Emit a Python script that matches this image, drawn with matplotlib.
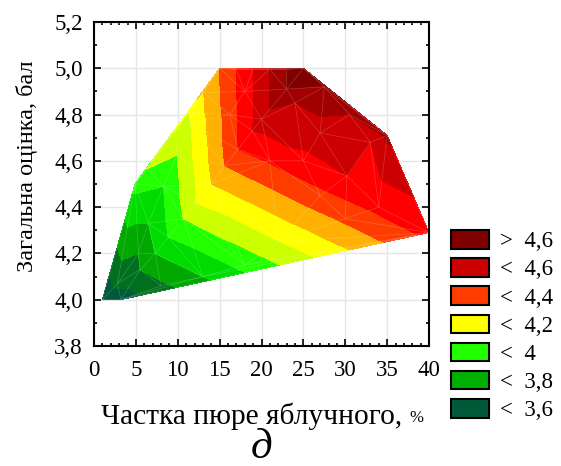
import numpy as np
import matplotlib
matplotlib.use("Agg")
import matplotlib.pyplot as plt
import matplotlib.tri as tri
from matplotlib.patches import Patch
from matplotlib.ticker import MultipleLocator, FixedLocator, FixedFormatter

plt.rcParams["font.family"] = ["Liberation Serif", "DejaVu Serif"]

# частка пюре яблучного, %
share = [1.0, 3.2, 40.0, 35.0, 25.0, 15.0, 4.9,
         6.3, 9.7, 11.3, 13.1,
         17.0, 19.0, 21.0, 23.0,
         5.3, 6.5, 8.3, 9.9, 11.6,
         2.8, 5.5, 7.3, 8.87, 10.67, 12.06, 14.05, 15.6, 17.2, 18.9,
         16.2, 18.0,
         20.0, 23.0, 27.5, 24.0, 30.5, 27.0, 30.2, 33.0,
         8.0, 13.0, 18.0, 22.0, 27.0, 30.0, 34.0, 21.0, 25.0]
# загальна оцінка, бал
score = [4.00, 4.00, 4.29, 4.71, 5.00, 5.00, 4.50,
         4.565, 4.73, 4.81, 4.895,
         4.995, 4.995, 4.995, 4.995,
         4.20, 4.33, 4.49, 4.625, 4.76,
         4.07, 4.13, 4.20, 4.27, 4.35, 4.42, 4.50, 4.58, 4.65, 4.73,
         4.80, 4.90,
         4.78, 4.91, 4.92, 4.85, 4.80, 4.72, 4.535, 4.68,
         4.06, 4.10, 4.15, 4.25, 4.45, 4.35, 4.40, 4.60, 4.60]
# розрахункова оцінка у точках
rating = [3.51, 3.54, 4.43, 4.62, 4.80, 4.30, 3.93,
          4.00, 4.06, 4.10, 4.20,
          4.40, 4.50, 4.60, 4.70,
          3.70, 3.80, 3.90, 4.00, 4.10,
          3.63, 3.70, 3.80, 3.90, 4.00, 4.10, 4.20, 4.30, 4.40, 4.50,
          4.35, 4.45,
          4.55, 4.70, 4.69, 4.60, 4.60, 4.55, 4.50, 4.50,
          3.68, 3.80, 3.93, 4.095, 4.37, 4.32, 4.43, 4.41, 4.476]

levels = [3.0, 3.6, 3.7, 3.8, 3.9, 4.0, 4.1, 4.2, 4.3, 4.4, 4.5, 4.6, 4.7, 5.0]
band_colors = ["#005a3a", "#00701e", "#00a800", "#00dc00", "#22ff00",
               "#ccff00", "#ffff00", "#ffb000", "#ff3c00", "#ff0000",
               "#cc0000", "#a00000", "#800000"]

legend_labels = [">\u20024,6", "<\u20024,6", "<\u20024,4", "<\u20024,2",
                 "<\u20024", "<\u20023,8", "<\u20023,6"]
legend_colors = ["#800000", "#cc0000", "#ff3c00", "#ffff00", "#22ff00", "#00b000", "#005a3a"]

x_ticks = [0, 5, 10, 15, 20, 25, 30, 35, 40]
y_ticks = [3.8, 4.0, 4.2, 4.4, 4.6, 4.8, 5.0, 5.2]
y_tick_labels = ["3,8", "4,0", "4,2", "4,4", "4,6", "4,8", "5,0", "5,2"]

fig = plt.figure(figsize=(5.61, 4.66), dpi=100)
ax = fig.add_axes([94 / 561, 120 / 466, 335 / 561, 324 / 466])

# triangulate in screen-like proportions so that triangles are not stretched
aspect = 27.6
base = tri.Triangulation(share, np.array(score) * aspect)
triang = tri.Triangulation(share, score, triangles=base.triangles)
ax.tricontourf(triang, rating, levels=levels, colors=band_colors)
ax.triplot(triang, color="white", alpha=0.2, lw=0.5)

ax.set_xlim(0, 40)
ax.set_ylim(3.8, 5.2)
ax.xaxis.set_major_locator(FixedLocator(x_ticks))
ax.xaxis.set_minor_locator(MultipleLocator(1))
ax.yaxis.set_major_locator(FixedLocator(y_ticks))
ax.yaxis.set_major_formatter(FixedFormatter(y_tick_labels))
ax.yaxis.set_minor_locator(MultipleLocator(0.1))
ax.set_axisbelow(True)
ax.grid(True, which="major", color="#e6e6e6", lw=1)
ax.tick_params(which="both", direction="in", top=True, right=True,
               labelsize=16.5, width=1.2)
ax.tick_params(which="major", length=5, pad=8)
ax.tick_params(axis="x", which="major", pad=10)
ax.tick_params(which="minor", length=2.5)
for sp in ax.spines.values():
    sp.set_linewidth(1.5)

fig.text(27 / 561, 1 - 166 / 466, "Загальна оцінка, бал", rotation=90,
         ha="center", va="center", fontsize=17.5)
xl = fig.text(101 / 561, 1 - 416 / 466, "Частка пюре яблучного, ",
              ha="left", va="center", fontsize=21.2)
ax.annotate("%", xy=(1, 0.15), xycoords=xl, va="bottom", ha="left",
            fontsize=12, annotation_clip=False)
fig.text(262 / 561, 1 - 448 / 466, "д", ha="center", va="center",
         fontsize=31, style="italic")

handles = [Patch(facecolor=c, edgecolor="black", lw=1.5) for c in legend_colors]
fig.legend(handles, legend_labels, loc="upper left",
           bbox_to_anchor=(451 / 561, 1 - 230 / 466), frameon=False,
           fontsize=16.5, borderpad=0, handlelength=1.66, handleheight=0.87,
           labelspacing=0.26, handletextpad=0.5, borderaxespad=0)

fig.savefig("out.png", dpi=100)
